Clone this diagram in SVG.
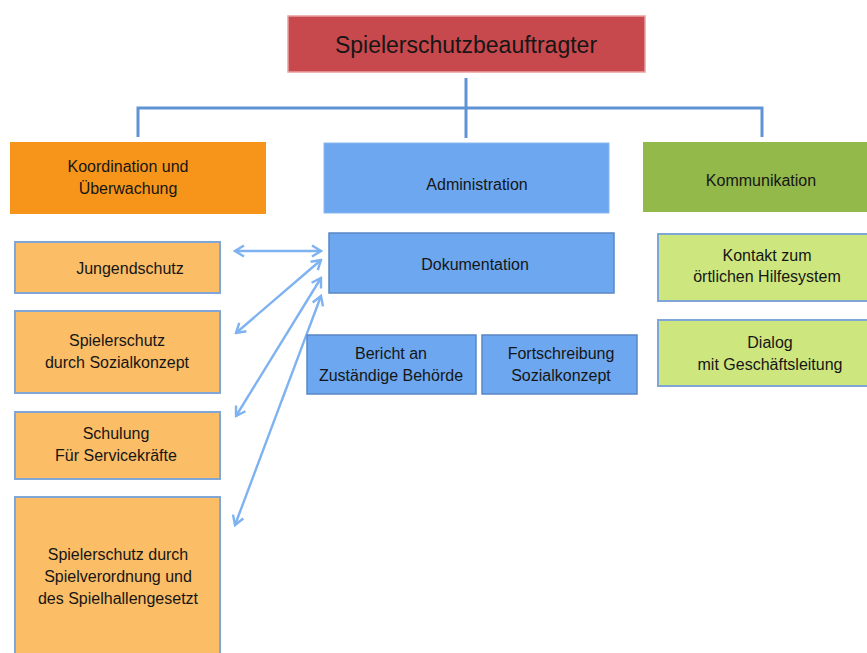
<svg xmlns="http://www.w3.org/2000/svg" width="867" height="653" viewBox="0 0 867 653">
<defs>
<style>
text{font-family:"Liberation Sans",Arial,sans-serif;fill:#161616;text-anchor:middle;font-size:16px}
.sub-o{fill:#fbbd66;stroke:#80a6d8;stroke-width:2}
.sub-g{fill:#cde67e;stroke:#80a6d8;stroke-width:2}
.sub-b{fill:#6ca7ef;stroke:#5a87c4;stroke-width:1.5}
.tree{stroke:#5f93d3;stroke-width:3;fill:none}
.arr{stroke:#7eb2f0;stroke-width:2.4;fill:none;marker-start:url(#ah);marker-end:url(#ah)}
</style>
<marker id="ah" viewBox="0 0 14 14" refX="12" refY="7" markerWidth="14" markerHeight="14" markerUnits="userSpaceOnUse" orient="auto-start-reverse">
<path d="M3 1.5 L12 7 L3 12.5" fill="none" stroke="#7eb2f0" stroke-width="2.4"/>
</marker>
</defs>
<rect width="867" height="653" fill="#fff"/>
<g id="connectors">
<path class="tree" d="M466 78 V138 M138 137 V108 H762 V137"/>
<line class="arr" x1="235" y1="251" x2="321" y2="251"/>
<line class="arr" x1="236" y1="333" x2="321" y2="260"/>
<line class="arr" x1="236" y1="416" x2="321" y2="278"/>
<line class="arr" x1="235" y1="525" x2="321" y2="296"/>
</g>
<g id="spielerschutzbeauftragter">
<rect x="288" y="16" width="357" height="56" fill="#c8494d" stroke="#e9a0a0" stroke-width="1.5"/>
<text x="466" y="53" style="font-size:23px">Spielerschutzbeauftragter</text>
</g>
<g id="koordination">
<rect x="10" y="142" width="256" height="72" fill="#f7951a"/>
<text x="128" y="172">Koordination und</text>
<text x="128" y="194">Überwachung</text>
</g>
<g id="administration">
<rect x="324" y="143" width="285" height="70" fill="#6ca7ef" stroke="#8ab8f0" stroke-width="1"/>
<text x="477" y="190">Administration</text>
</g>
<g id="kommunikation">
<rect x="643" y="142" width="226" height="70" fill="#94b94b"/>
<text x="761" y="186">Kommunikation</text>
</g>
<g id="jungendschutz">
<rect class="sub-o" x="15" y="242" width="205" height="51"/>
<text x="130" y="274">Jungendschutz</text>
</g>
<g id="spielerschutz-sozialkonzept">
<rect class="sub-o" x="15" y="311" width="205" height="82"/>
<text x="117" y="346">Spielerschutz</text>
<text x="117" y="368">durch Sozialkonzept</text>
</g>
<g id="schulung">
<rect class="sub-o" x="15" y="412" width="205" height="67"/>
<text x="116" y="439">Schulung</text>
<text x="116" y="461">Für Servicekräfte</text>
</g>
<g id="spielverordnung">
<rect class="sub-o" x="15" y="497" width="205" height="160"/>
<text x="118" y="560">Spielerschutz durch</text>
<text x="118" y="582">Spielverordnung und</text>
<text x="118" y="604">des Spielhallengesetzt</text>
</g>
<g id="dokumentation">
<rect class="sub-b" x="329" y="233" width="285" height="60"/>
<text x="475" y="270">Dokumentation</text>
</g>
<g id="bericht">
<rect class="sub-b" x="307" y="335" width="169" height="59"/>
<text x="391" y="359">Bericht an</text>
<text x="391" y="381">Zuständige Behörde</text>
</g>
<g id="fortschreibung">
<rect class="sub-b" x="482" y="335" width="155" height="59"/>
<text x="561" y="359">Fortschreibung</text>
<text x="561" y="381">Sozialkonzept</text>
</g>
<g id="kontakt">
<rect class="sub-g" x="658" y="234" width="212" height="67"/>
<text x="767" y="261">Kontakt zum</text>
<text x="767" y="282">örtlichen Hilfesystem</text>
</g>
<g id="dialog">
<rect class="sub-g" x="658" y="320" width="212" height="66"/>
<text x="770" y="348">Dialog</text>
<text x="770" y="370">mit Geschäftsleitung</text>
</g>
</svg>
